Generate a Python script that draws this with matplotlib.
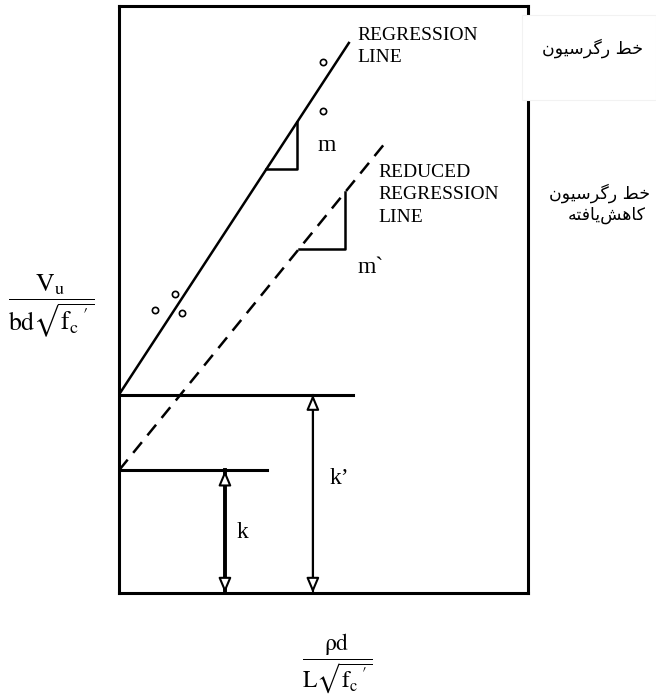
import numpy as np
import matplotlib.pyplot as plt
from matplotlib.patches import FancyArrowPatch, Rectangle

plt.rcParams["font.family"] = ["Liberation Serif", "DejaVu Sans"]
plt.rcParams["mathtext.fontset"] = "stix"

# schematic values (diagram units)
k = 3.0            # intercept of reduced line
k_prime = 4.85     # intercept of regression line
m = 1.53           # slope of regression line
m_prime = 1.23     # slope of reduced regression line
x_reg_end = 5.62
x_red_end = 6.58

# test points scattered around the regression line
pts_x = [4.99, 4.99, 0.88, 1.37, 1.54]
pts_y = [12.98, 11.78, 6.92, 7.31, 6.85]

# slope triangles (start, end along x)
tri_m = (3.6, 4.35)
tri_mp = (4.40, 5.53)

# horizontal intercept lines (length along x) and arrow positions
h_upper_len = 5.72
h_lower_len = 3.62
arrow_k_x = 2.59
arrow_kp_x = 4.74

lbl_reg = "REGRESSION\nLINE"
lbl_red = "REDUCED\nREGRESSION\nLINE"
fa_reg = "خط رگرسیون"
fa_red = ["خط رگرسیون", "کاهش\u200cیافته"]

# Persian shaping by hand (presentation forms), matplotlib draws glyphs left-to-right
FORMS = {
    "ا": ("\uFE8D", "\uFE8E", None, None),
    "ت": ("\uFE95", "\uFE96", "\uFE97", "\uFE98"),
    "خ": ("\uFEA5", "\uFEA6", "\uFEA7", "\uFEA8"),
    "ر": ("\uFEAD", "\uFEAE", None, None),
    "س": ("\uFEB1", "\uFEB2", "\uFEB3", "\uFEB4"),
    "ش": ("\uFEB5", "\uFEB6", "\uFEB7", "\uFEB8"),
    "ط": ("\uFEC1", "\uFEC2", "\uFEC3", "\uFEC4"),
    "ف": ("\uFED1", "\uFED2", "\uFED3", "\uFED4"),
    "ن": ("\uFEE5", "\uFEE6", "\uFEE7", "\uFEE8"),
    "ه": ("\uFEE9", "\uFEEA", "\uFEEB", "\uFEEC"),
    "و": ("\uFEED", "\uFEEE", None, None),
    "ک": ("\uFB8E", "\uFB8F", "\uFB90", "\uFB91"),
    "گ": ("\uFB92", "\uFB93", "\uFB94", "\uFB95"),
    "ی": ("\uFBFC", "\uFBFD", "\uFBFE", "\uFBFF"),
}


def shape(text):
    out = []
    for i, c in enumerate(text):
        if c not in FORMS:
            out.append(c)
            continue
        prev = text[i - 1] if i > 0 else None
        nxt = text[i + 1] if i + 1 < len(text) else None
        jp = prev in FORMS and FORMS[prev][2] is not None
        jn = nxt in FORMS and FORMS[c][2] is not None
        iso, fin, ini, med = FORMS[c]
        if jp and jn:
            out.append(med)
        elif jp:
            out.append(fin)
        elif jn:
            out.append(ini)
        else:
            out.append(iso)
    return "".join(out).replace("\u200c", "")[::-1]


W, H = 656, 699
fig = plt.figure(figsize=(W / 100, H / 100), dpi=100)
ax = fig.add_axes([119 / W, (H - 593) / H, 409 / W, 587 / H])
ax.set_xlim(0, 10)
ax.set_ylim(0, 587 / 40.9)
ax.set_xticks([])
ax.set_yticks([])
for s in ax.spines.values():
    s.set_linewidth(2.2)

# regression line and reduced line
xr = np.array([0, x_reg_end])
ax.plot(xr, k_prime + m * xr, color="black", lw=1.8)
xd = np.array([0, x_red_end])
ax.plot(xd, k + m_prime * xd, color="black", lw=1.8, ls=(0, (5.5, 3.5)))

ax.plot(pts_x, pts_y, "o", ms=4.5, mfc="white", mec="black", mew=1.2)

# slope triangles
for (x0, x1), b, s in [(tri_m, k_prime, m), (tri_mp, k, m_prime)]:
    ax.plot([x0, x1, x1], [b + s * x0, b + s * x0, b + s * x1], color="black", lw=1.8)

# intercept lines
ax.plot([0, h_upper_len], [k_prime, k_prime], color="black", lw=2.2)
ax.plot([0, h_lower_len], [k, k], color="black", lw=2.2)

# k arrows: shaft first, open heads on top
for x, top, lw in [(arrow_k_x, k, 2.8), (arrow_kp_x, k_prime, 1.5)]:
    ax.plot([x, x], [0, top], color="black", lw=lw, zorder=3)
    arr = FancyArrowPatch((x, 0), (x, top),
                          arrowstyle="<|-|>,head_length=0.9,head_width=0.38",
                          mutation_scale=10, shrinkA=0, shrinkB=0,
                          fc="white", ec="black", lw=1.5, zorder=4)
    ax.add_patch(arr)

ax.text(5.82, 13.85, lbl_reg, fontsize=14, va="top", ha="left", linespacing=1.45)
ax.text(6.33, 10.5, lbl_red, fontsize=14, va="top", ha="left", linespacing=1.45)
ax.text(4.85, 10.95, "m", fontsize=17, va="center")
ax.text(5.84, 7.95, "m`", fontsize=17, va="center")
ax.text(2.88, 1.47, "k", fontsize=17, va="center")
ax.text(5.14, 2.81, "k’", fontsize=17, va="center")

# white box over the right edge behind the first Persian label
fig.patches.append(Rectangle((522 / W, 1 - 100 / H), (W - 522) / W, 85 / H,
                             transform=fig.transFigure, fc="white", ec="#f2f2f2",
                             lw=0.8, zorder=10))

fig.text(593 / W, 1 - 48 / H, shape(fa_reg), family="DejaVu Sans", fontsize=12.5,
         ha="center", va="center", zorder=11)
fig.text(650 / W, 1 - 193 / H, shape(fa_red[0]), family="DejaVu Sans", fontsize=12.5,
         ha="right", va="center")
fig.text(646 / W, 1 - 215 / H, shape(fa_red[1]), family="DejaVu Sans", fontsize=12.5,
         ha="right", va="center")

# axis labels as fractions
fig.text(51 / W, 1 - 306 / H, r"$\dfrac{\mathrm{V_u}}{\mathrm{bd}\sqrt{\mathrm{f_c}\,'}}$",
         fontsize=18.5, ha="center", va="center")
fig.text(337 / W, 1 - 664 / H, r"$\dfrac{\mathrm{\rho d}}{\mathrm{L}\sqrt{\mathrm{f_c}\,'}}$",
         fontsize=17, ha="center", va="center")

fig.savefig("out.png", dpi=100)
